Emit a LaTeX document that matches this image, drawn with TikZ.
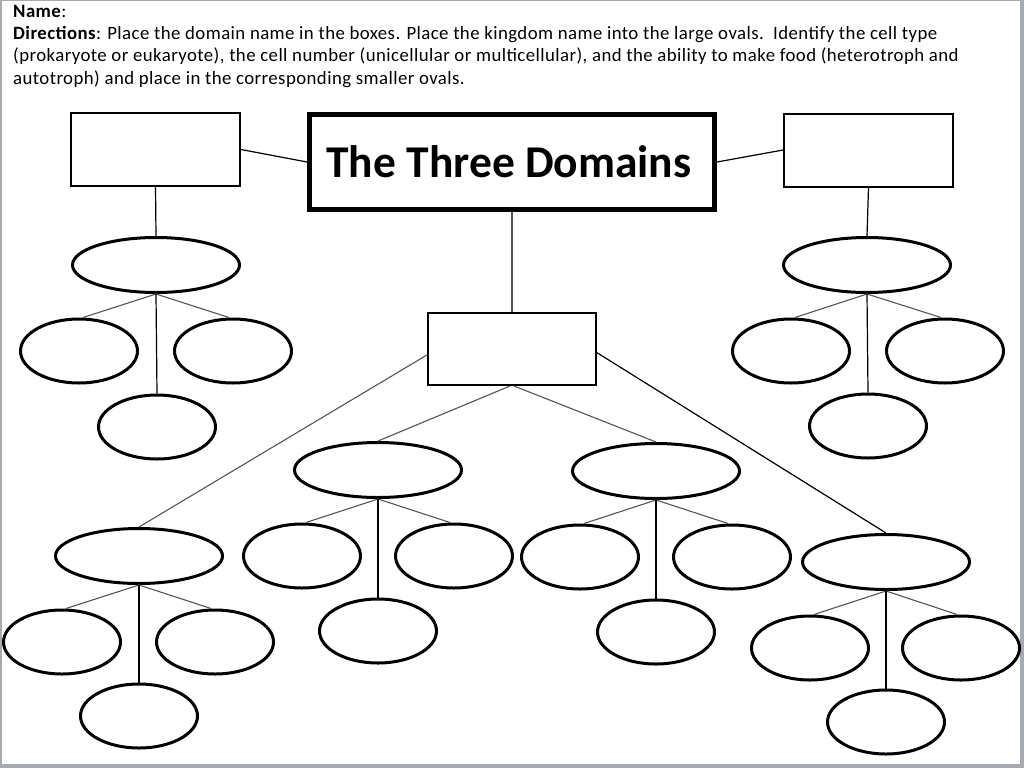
\documentclass[tikz,border=0pt]{standalone}
\usepackage{fontspec}
\setmainfont{Carlito}
\newfontfamily\hdrfont[LetterSpace=2.3]{Carlito}
\usetikzlibrary{shapes.geometric,calc}
\definecolor{framegray}{HTML}{A7AAAE}
\definecolor{linegray}{HTML}{555555}
\tikzset{
  bigoval/.style={draw, ellipse, line width=3pt, minimum width=167pt, minimum height=55pt, inner sep=0pt},
  smalloval/.style={draw, ellipse, line width=3pt, minimum width=117pt, minimum height=64pt, inner sep=0pt},
  domainbox/.style={draw, rectangle, line width=2pt, minimum width=169pt, minimum height=73pt, inner sep=0pt},
  titlebox/.style={draw, rectangle, line width=5pt, minimum width=405pt, minimum height=95pt, inner sep=0pt, font=\fontsize{45.5}{50}\selectfont\bfseries},
  conn/.style={line width=1.2pt, black},
  connlight/.style={line width=1.1pt, linegray},
  txt/.style={anchor=base west, inner sep=0pt, font=\hdrfont\fontsize{18.8}{22}\selectfont}
}
\begin{document}
\begin{tikzpicture}[x=1pt,y=-1pt]
\fill[framegray] (0,0) rectangle (1024,768);
\fill[white] (2,1) rectangle (1020,764);
\useasboundingbox (0,0) rectangle (1024,768);

% header text
\node[txt] (t1) at (13,18) {\textbf{Name}:};
\node[txt] (t2) at (13,40) {\textbf{Directions}: Place the domain name in the boxes. Place the kingdom name into the large ovals.\ \ Identify the cell type};
\node[txt] (t3) at (13,62) {(prokaryote or eukaryote), the cell number (unicellular or multicellular), and the ability to make food (heterotroph and};
\node[txt] (t4) at (13,84) {autotroph) and place in the corresponding smaller ovals.};

% title and domain boxes
\node[titlebox] (title) at (512,162) {\raisebox{-1pt}{The Three Domains}\hspace*{6pt}};
\node[domainbox] (lb) at (155.5,149.5) {};
\node[domainbox] (rb) at (868.5,150) {};
\node[domainbox, minimum width=168pt, minimum height=72pt] (mb) at (512,349) {};

% group 1 (top left)
\node[bigoval] (g1) at (156,265) {};
\node[smalloval] (g1l) at (79,351) {};
\node[smalloval] (g1r) at (233,351) {};
\node[smalloval] (g1b) at (157,427) {};
% group 2 (top right)
\node[bigoval] (g2) at (867,265) {};
\node[smalloval] (g2l) at (791,351) {};
\node[smalloval] (g2r) at (945,351) {};
\node[smalloval] (g2b) at (868,426) {};
% group 3 (lower left)
\node[bigoval] (g3) at (139,556) {};
\node[smalloval] (g3l) at (62,642) {};
\node[smalloval] (g3r) at (215,642) {};
\node[smalloval] (g3b) at (139,716) {};
% group 4 (middle left)
\node[bigoval] (g4) at (378,470) {};
\node[smalloval] (g4l) at (302,556) {};
\node[smalloval] (g4r) at (454,556) {};
\node[smalloval] (g4b) at (378,631) {};
% group 5 (middle right)
\node[bigoval] (g5) at (656,471) {};
\node[smalloval] (g5l) at (580,557) {};
\node[smalloval] (g5r) at (732,557) {};
\node[smalloval] (g5b) at (656,632) {};
% group 6 (lower right)
\node[bigoval] (g6) at (886,562) {};
\node[smalloval] (g6l) at (810,648) {};
\node[smalloval] (g6r) at (961,648) {};
\node[smalloval] (g6b) at (886,722) {};

% connectors top
\draw[conn] (lb.east) -- (title.west);
\draw[conn] (title.east) -- (rb.west);
\draw[connlight] (title.south) -- (mb.north);
\draw[conn] (lb.south) -- (g1.north);
\draw[conn] (rb.south) -- (g2.north);

% connectors from middle box
\draw[connlight] ($(mb.north west)!0.58!(mb.south west)$) -- (g3.north);
\draw[connlight] ($(mb.south)+(-2,0)$) -- (g4.north);
\draw[connlight] ($(mb.south)+(2,0)$) -- (g5.north);
\draw[conn] ($(mb.north east)!0.55!(mb.south east)$) -- (g6.north);

% connectors within groups
\foreach \g in {g1,g2,g3,g4,g5,g6}{
  \draw[connlight] (\g.south) -- ($(\g l.north)+(4,0)$);
  \draw[connlight] (\g.south) -- ($(\g r.north)+(-4,0)$);
  \draw[conn] (\g.south) -- (\g b.north);
}
\end{tikzpicture}
\end{document}
